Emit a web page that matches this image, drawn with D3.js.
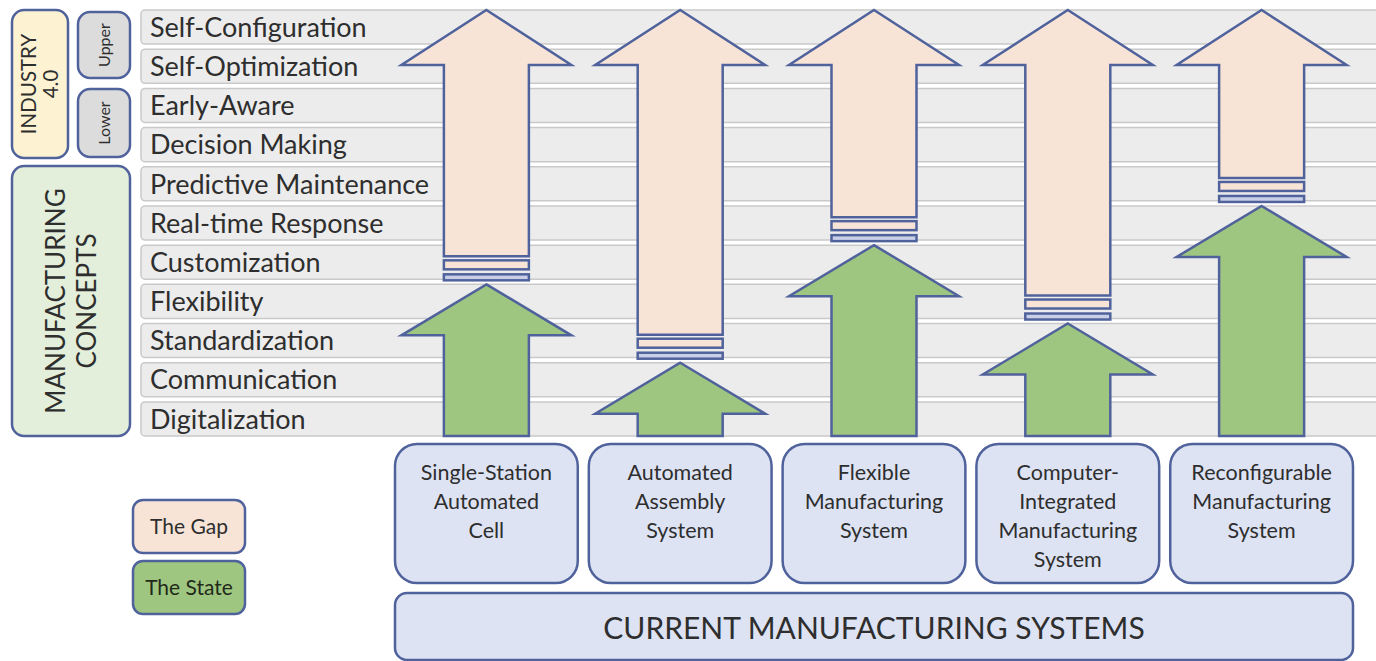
<!DOCTYPE html>
<html>
<head>
<meta charset="utf-8">
<script src="https://cdn.jsdelivr.net/npm/d3@7"></script>
<style>
  body { margin: 0; background: #fff; }
  svg { display: block; font-family: Lato, "Open Sans", sans-serif; }
</style>
</head>
<body>
<svg id="chart" width="1376" height="661"></svg>
<script>
// levels, top to bottom
const levels = [
    'Self-Configuration', 'Self-Optimization', 'Early-Aware', 'Decision Making',
    'Predictive Maintenance', 'Real-time Response', 'Customization', 'Flexibility',
    'Standardization', 'Communication', 'Digitalization'
]
const systems = [
    ['Single-Station', 'Automated', 'Cell'],
    ['Automated', 'Assembly', 'System'],
    ['Flexible', 'Manufacturing', 'System'],
    ['Computer-', 'Integrated', 'Manufacturing', 'System'],
    ['Reconfigurable', 'Manufacturing', 'System']
]
// highest level reached today by each system
const stateLevels = ['Flexibility', 'Communication', 'Customization', 'Standardization', 'Real-time Response']
const legendItems = ['The Gap', 'The State']

const gapFill = '#f8e4d7'
const stateFill = '#9fc680'
const edge = '#50629c'
const ink = '#2e2e2e'

const svg = d3.select('#chart')

const y = d3.scaleBand().domain(levels).range([10, 436]).paddingInner(0.13)
const x = d3.scaleBand().domain(d3.range(systems.length)).range([395, 1353]).paddingInner(0.057)

// level rows
const rows = svg.append('g')
rows.selectAll('rect')
    .data(levels)
    .join('rect')
    .attr('x', 141)
    .attr('y', d => y(d))
    .attr('width', 1260)
    .attr('height', y.bandwidth())
    .attr('rx', 4)
    .attr('fill', '#ececec')
    .attr('stroke', '#c9c9c9')
    .attr('stroke-width', 1.5)
rows.selectAll('text')
    .data(levels)
    .join('text')
    .attr('x', 150)
    .attr('y', d => y(d) + y.bandwidth() / 2)
    .attr('dy', '0.36em')
    .attr('fill', ink)
    .style('font-size', '27px')
    .text(d => d)

// side group boxes
const sideBox = (bx, by, w, h, fill, lines, size, gap) => {
    svg.append('rect')
        .attr('x', bx).attr('y', by).attr('width', w).attr('height', h)
        .attr('rx', 12)
        .attr('fill', fill)
        .attr('stroke', edge)
        .attr('stroke-width', 2.5)
    const cx = bx + w / 2, cy = by + h / 2
    const t = svg.append('text')
        .attr('transform', `translate(${cx},${cy}) rotate(-90)`)
        .attr('text-anchor', 'middle')
        .attr('fill', ink)
        .style('font-size', size + 'px')
    lines.forEach((l, i) => {
        t.append('tspan')
            .attr('x', 0)
            .attr('y', (i - (lines.length - 1) / 2) * gap)
            .attr('dy', '0.36em')
            .text(l)
    })
}
sideBox(12, 10, 56, 148, '#fdf3d3', ['INDUSTRY', '4.0'], 20.5, 22)
sideBox(78, 12, 52, 66, '#dcdcdc', ['Upper'], 16, 0)
sideBox(78, 89, 52, 68, '#dcdcdc', ['Lower'], 16, 0)
sideBox(12, 166, 118, 270, '#e4efdb', ['MANUFACTURING', 'CONCEPTS'], 26, 31)

// arrows
const shaft = 85, head = 170
const rowsBottom = y.range()[1]
const rowsTop = y.range()[0]
const arrows = svg.append('g')
    .attr('stroke', edge)
    .attr('stroke-width', 2.5)
    .attr('stroke-linejoin', 'miter')

stateLevels.forEach((lvl, i) => {
    const cx = x(i) + x.bandwidth() / 2
    const tip = y(lvl)
    const gapBottom = tip - 28

    const gap = d3.path()
    gap.moveTo(cx, rowsTop)
    gap.lineTo(cx + head / 2, rowsTop + 55)
    gap.lineTo(cx + shaft / 2, rowsTop + 55)
    gap.lineTo(cx + shaft / 2, gapBottom)
    gap.lineTo(cx - shaft / 2, gapBottom)
    gap.lineTo(cx - shaft / 2, rowsTop + 55)
    gap.lineTo(cx - head / 2, rowsTop + 55)
    gap.closePath()
    arrows.append('path').attr('d', gap.toString()).attr('fill', gapFill)

    arrows.append('rect')
        .attr('x', cx - shaft / 2).attr('y', tip - 24)
        .attr('width', shaft).attr('height', 9)
        .attr('fill', gapFill)
    arrows.append('rect')
        .attr('x', cx - shaft / 2).attr('y', tip - 10)
        .attr('width', shaft).attr('height', 6)
        .attr('fill', '#c9cfe6')

    const st = d3.path()
    st.moveTo(cx, tip)
    st.lineTo(cx + head / 2, tip + 51)
    st.lineTo(cx + shaft / 2, tip + 51)
    st.lineTo(cx + shaft / 2, rowsBottom)
    st.lineTo(cx - shaft / 2, rowsBottom)
    st.lineTo(cx - shaft / 2, tip + 51)
    st.lineTo(cx - head / 2, tip + 51)
    st.closePath()
    arrows.append('path').attr('d', st.toString()).attr('fill', stateFill)
})

// system boxes
const boxes = svg.append('g')
systems.forEach((lines, i) => {
    boxes.append('rect')
        .attr('x', x(i)).attr('y', 444)
        .attr('width', x.bandwidth()).attr('height', 139)
        .attr('rx', 22)
        .attr('fill', '#dde3f3')
        .attr('stroke', edge)
        .attr('stroke-width', 2.5)
    const t = boxes.append('text')
        .attr('text-anchor', 'middle')
        .attr('fill', ink)
        .style('font-size', '21.5px')
    lines.forEach((l, j) => {
        t.append('tspan')
            .attr('x', x(i) + x.bandwidth() / 2)
            .attr('y', 472 + j * 29)
            .attr('dy', '0.36em')
            .text(l)
    })
})
boxes.append('rect')
    .attr('x', 395).attr('y', 593)
    .attr('width', 958).attr('height', 67)
    .attr('rx', 12)
    .attr('fill', '#dde3f3')
    .attr('stroke', edge)
    .attr('stroke-width', 2.5)
boxes.append('text')
    .attr('x', 874).attr('y', 628)
    .attr('dy', '0.36em')
    .attr('text-anchor', 'middle')
    .attr('fill', ink)
    .style('font-size', '30px')
    .text('CURRENT MANUFACTURING SYSTEMS')

// legend
const legend = svg.append('g')
legendItems.forEach((d, i) => {
    legend.append('rect')
        .attr('x', 133).attr('y', 500 + i * 61)
        .attr('width', 112).attr('height', 53)
        .attr('rx', 10)
        .attr('fill', i === 0 ? gapFill : stateFill)
        .attr('stroke', edge)
        .attr('stroke-width', 2.5)
    legend.append('text')
        .attr('x', 189).attr('y', 526 + i * 61)
        .attr('dy', '0.36em')
        .attr('text-anchor', 'middle')
        .attr('fill', i === 0 ? ink : '#1f2a1a')
        .style('font-size', '21px')
        .text(d)
})
</script>
</body>
</html>
